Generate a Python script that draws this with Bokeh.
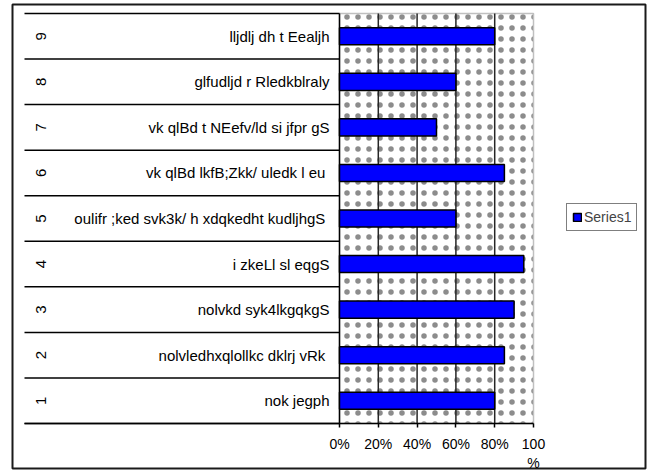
import math
from bokeh.plotting import figure
from bokeh.models import Range1d, LinearAxis, FixedTicker
from bokeh.core.properties import value
from bokeh.embed import file_html
from bokeh.resources import INLINE

# ---- data ----
categories = ["1", "2", "3", "4", "5", "6", "7", "8", "9"]
labels = [
    "nok jegph",
    "nolvledhxqlollkc dklrj  vRk",
    "nolvkd syk4lkgqkgS",
    "i zkeLl sl eqgS",
    "oulifr ;ked svk3k/ h  xdqkedht kudljhgS",
    "vk qlBd  lkfB;Zkk/ uledk l eu",
    "vk qlBd t NEefv/ld si jfpr gS",
    "glfudljd r Rledkblraly",
    "lljdlj dh t Eealjh",
]
values = [80, 85, 90, 95, 60, 85, 50, 60, 80]
ticks = [0, 20, 40, 60, 80, 100]
tick_labels = ["0%", "20%", "40%", "60%", "80%", "100\n%"]
series_name = "Series1"

# ---- layout (pixels) ----
W, H = 658, 470
FL, FR, FT, FB = 12, 645, 4, 468          # chart border
X0PX, X100PX = 339, 533                   # value axis 0..100
PLOT_T, PLOT_B = 13, 423                  # category band extent
LAB_LEFT_PX = 24
NUM_PX = 40
TXT_RIGHT_PX = 329

n = len(categories)
kx = (X100PX - X0PX) / (ticks[-1] - ticks[0])
ky = (PLOT_B - PLOT_T) / n
x_start = ticks[0] + (FL - X0PX) / kx
x_end = ticks[0] + (FR - X0PX) / kx
y_start = 0.5 - (FB - PLOT_B) / ky
y_end = n + 0.5 + (PLOT_T - FT) / ky
lab_left = ticks[0] + (LAB_LEFT_PX - X0PX) / kx
num_x = ticks[0] + (NUM_PX - X0PX) / kx
txt_x = ticks[0] + (TXT_RIGHT_PX - X0PX) / kx

ypos = [i + 1 for i in range(n)]
bounds = [i + 0.5 for i in range(n + 1)]

p = figure(width=W, height=H, x_range=Range1d(x_start, x_end),
           y_range=Range1d(y_start, y_end), output_backend="svg",
           toolbar_location=None, x_axis_location=None, y_axis_location=None,
           min_border_left=FL, min_border_right=W - FR,
           min_border_top=FT, min_border_bottom=H - FB, title=None)
p.grid.visible = False
p.background_fill_color = "white"
p.border_fill_color = "white"
p.outline_line_color = "#1a1a1a"
p.outline_line_width = 2

# dotted plot area
p.quad(left=[ticks[0]], right=[ticks[-1]], bottom=[0.5], top=[n + 0.5],
       fill_color="white", line_color="#c0c0c0", line_width=1.5,
       hatch_pattern="dot", hatch_color="black", hatch_scale=11,
       hatch_weight=0.1, hatch_alpha=0.45, level="image")

# vertical gridlines
gx = [t for t in ticks[1:-1]]
p.segment(x0=[t for t in gx], y0=[0.5 for _ in gx],
          x1=[t for t in gx], y1=[n + 0.5 for _ in gx],
          line_color="#262626", line_width=1.5, level="guide")
# category axis line
p.segment(x0=[ticks[0]], y0=[0.5], x1=[ticks[0]], y1=[n + 0.5],
          line_color="black", line_width=1.5, level="guide")
# label table separators
p.segment(x0=[lab_left for _ in bounds], y0=[b for b in bounds],
          x1=[ticks[0] for _ in bounds], y1=[b for b in bounds],
          line_color="black", line_width=1.5)

# bars
bars = p.hbar(y=ypos, left=0, right=values, height=0.375, fill_color="#0000ff",
              line_color="black", line_width=1.5, legend_label=series_name)
bars.level = "guide"

# category labels
p.text(x=[txt_x] * n, y=ypos, text=labels, text_align="right",
       text_baseline="middle", text_font=value("Liberation Sans"),
       text_font_size="15px", text_color="black")
p.text(x=[num_x] * n, y=ypos, text=categories, angle=math.pi / 2,
       text_align="center", text_baseline="middle",
       text_font=value("Liberation Sans"), text_font_size="15px",
       text_color="black")

# value axis
ax = LinearAxis(fixed_location=0.5, ticker=FixedTicker(ticks=ticks),
                bounds=(lab_left, ticks[-1]),
                major_label_overrides=dict(zip(ticks, tick_labels)))
ax.axis_line_color = "black"
ax.axis_line_width = 1.5
ax.major_tick_line_color = "black"
ax.major_tick_line_width = 1.5
ax.major_tick_in = 0
ax.major_tick_out = 4
ax.minor_tick_line_color = None
ax.major_label_text_font = "Liberation Sans"
ax.major_label_text_font_size = "14px"
ax.major_label_text_color = "black"
ax.major_label_standoff = 8
p.add_layout(ax, "below")

# legend
lg = p.legend[0]
lg.location = (566 - FL, FB - 231)
lg.border_line_color = "black"
lg.border_line_width = 1.5
lg.background_fill_color = "white"
lg.padding = 5
lg.margin = 0
lg.spacing = 0
lg.glyph_width = 10
lg.glyph_height = 10
lg.label_standoff = 2
lg.label_text_font = "Liberation Sans"
lg.label_text_font_size = "14px"
lg.label_height = 14

open("out.html", "w").write(file_html(p, INLINE))
